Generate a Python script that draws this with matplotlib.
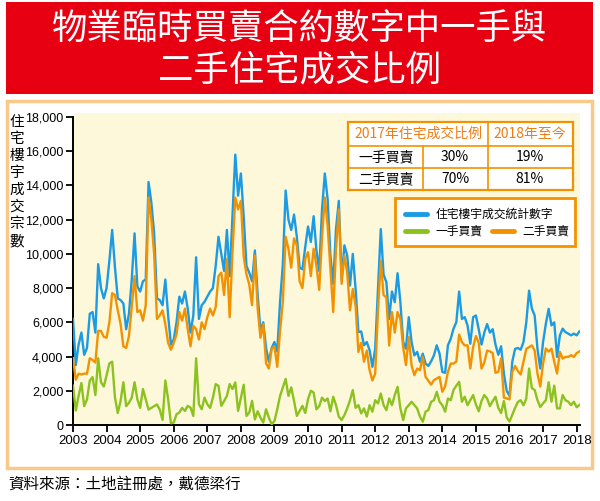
import matplotlib
matplotlib.use('Agg')
import matplotlib.pyplot as plt
from matplotlib.patches import Rectangle
from matplotlib.lines import Line2D
import numpy as np

plt.rcParams['font.family'] = ['Noto Sans CJK TC', 'DejaVu Sans']

# monthly figures, Jan 2003 - Feb 2018
total = [
    6200, 3500, 4700, 5400, 4100, 4500, 6500, 6600, 5400, 9400, 8000, 7400,
    8000, 9600, 11400, 9200, 7400, 7300, 7100, 5600, 6500, 8500, 11200, 8100,
    7800, 8400, 8500, 14200, 13000, 11200, 7400, 7300, 7000, 8500, 6400, 4700,
    5000, 6000, 7500, 7100, 7800, 6800, 5400, 6400, 9800, 6200, 7000, 7200,
    7500, 7800, 8000, 9300, 11000, 10000, 9000, 11400, 8700, 12200, 15800, 13400,
    14700, 12200, 9300, 8900, 8400, 10200, 7600, 5500, 6000, 4500, 3700, 4500,
    4850, 4300, 7200, 9400, 13700, 12000, 11400, 12300, 11000, 9200, 9100, 10400,
    11600, 10700, 12200, 10200, 9000, 12600, 14700, 13200, 9900, 8250, 11450, 13100,
    8540, 10500, 9900, 8150, 10000, 7950, 5430, 5470, 4660, 4850, 4370, 3400,
    4460, 8000, 11450, 8800, 8340, 6200, 7800, 7180, 8870, 7180, 4850, 4460,
    6300, 4850, 4070, 4270, 3690, 4170, 3590, 3450, 3720, 4070, 4660, 4170,
    3100, 3050, 4660, 5040, 5630, 6010, 7800, 6200, 6300, 5820, 4750, 6300,
    6400, 5600, 4700, 5400, 5900, 5400, 5600, 4700, 4100, 4600, 3000, 2000,
    1700, 3700, 4450, 4500, 4400, 4850, 6000, 7850, 6800, 6400, 4450, 3300,
    4850, 5920, 6790, 5820, 6000, 3980, 5240, 5630, 5430, 5340, 5240, 5340,
    5240, 5470,
]
primary = [
    2300, 850, 1700, 2450, 1100, 1500, 2600, 2800, 1750, 3900, 2500, 2250,
    2900, 3600, 3700, 1600, 700, 1400, 2500, 1100, 1300, 1600, 2500, 1500,
    1000, 2100, 1500, 900, 1000, 1100, 1200, 900, 300, 2600, 1500, 100,
    140, 630, 730, 1000, 820, 1120, 1020, 530, 3900, 1220, 920, 1600,
    1220, 1000, 1600, 2390, 2290, 1120, 1400, 1700, 2390, 2100, 2490, 820,
    1600, 2350, 530, 730, 1410, 330, 800, 430, 140, 920, 430, 40,
    235, 920, 1700, 2200, 2690, 1700, 2200, 1410, 530, 820, 1120, 700,
    1510, 2000, 1900, 920, 1100, 1600, 1400, 1550, 800, 1650, 1160, 490,
    290, 580, 970, 1450, 2040, 1000, 1160, 680, 970, 490, 1160, 780,
    1450, 1260, 1840, 1160, 870, 1550, 1160, 1750, 2230, 970, 290, 970,
    1160, 1360, 1160, 970, 490, 190, 780, 870, 1360, 1450, 1940, 1360,
    1160, 780, 1550, 1450, 2040, 2300, 2520, 1360, 1650, 1160, 1450, 1750,
    1200, 800, 1400, 1750, 1550, 1100, 1400, 1650, 1000, 700, 1400, 450,
    200, 600, 1000, 1350, 1450, 1150, 1550, 3300, 2150, 2050, 1450, 1050,
    1260, 1450, 2500, 1360, 2300, 970, 970, 1750, 1450, 1360, 1160, 1360,
    1040, 1170,
]
secondary = [
    3900, 2650, 3000, 2950, 3000, 3000, 3900, 3800, 3650, 5500, 5500, 5150,
    5100, 6000, 7700, 7600, 6700, 5900, 4600, 4500, 5200, 6900, 8700, 6600,
    6700, 6100, 7000, 13300, 12000, 10000, 6200, 6400, 6700, 5900, 4800, 4400,
    4800, 5300, 6600, 6100, 6800, 5600, 4600, 5800, 5600, 5000, 6000, 5600,
    6300, 6800, 6400, 6900, 8700, 8900, 7600, 9700, 6300, 10100, 13300, 12600,
    13100, 9850, 8800, 8200, 7000, 9900, 6800, 5100, 5900, 3600, 3300, 4450,
    4600, 3400, 5500, 7200, 11000, 10300, 9200, 10900, 10500, 8400, 8000, 9700,
    10100, 8700, 10300, 9300, 7900, 11000, 13300, 11650, 9100, 6600, 10300, 12600,
    8250, 9900, 8900, 6700, 7950, 6950, 4270, 4800, 3700, 4350, 3200, 2600,
    3000, 6700, 9600, 7600, 7450, 4650, 6600, 5400, 6600, 6200, 4550, 3500,
    5140, 3490, 2910, 3300, 3200, 3980, 2810, 2580, 2360, 2620, 2720, 2810,
    1940, 2270, 3110, 3590, 3590, 3710, 5280, 4840, 4650, 4660, 3300, 4550,
    5200, 4800, 3300, 3650, 4350, 4300, 4200, 3050, 3100, 3900, 1600, 1550,
    1500, 3100, 3450, 3150, 2950, 3700, 4450, 4550, 4650, 4350, 3000, 2250,
    3590, 4470, 4290, 4460, 3700, 3010, 4270, 3880, 3980, 3980, 4080, 3980,
    4200, 4300,
]
years = list(range(2003, 2019))
yticks = list(range(0, 18001, 2000))

table_header = ['2017年住宅成交比例', '2018年至今']
table_rows = [['一手買賣', '30%', '19%'], ['二手買賣', '70%', '81%']]

BLUE = '#1b9be4'
GREEN = '#8cc21f'
ORANGE = '#f39200'

W, H = 600, 501
fig = plt.figure(figsize=(6, 5.01), dpi=100)


def fx(px):
    return px / W


def fy(py):
    return 1 - py / H


def rect(x0, y0, x1, y1, **kw):
    fig.patches.append(Rectangle((fx(x0), fy(y1)), fx(x1 - x0), (y1 - y0) / H,
                                 transform=fig.transFigure, **kw))


def hline(x0, x1, y, **kw):
    fig.lines.append(Line2D([fx(x0), fx(x1)], [fy(y), fy(y)], transform=fig.transFigure, **kw))


def vline(x, y0, y1, **kw):
    fig.lines.append(Line2D([fx(x), fx(x)], [fy(y0), fy(y1)], transform=fig.transFigure, **kw))


# title banner
rect(6, 2, 593, 94, facecolor='#e60012', edgecolor='none', zorder=-2)
fig.text(0.5, fy(30), '物業臨時買賣合約數字中一手與', ha='center', va='center',
         color='white', fontsize=25.5)
fig.text(0.5, fy(70), '二手住宅成交比例', ha='center', va='center',
         color='white', fontsize=25.5)

# outer frame and plot background
rect(7, 101, 592, 468, facecolor='none', edgecolor='#f9c98a', lw=2.5, zorder=-2)
rect(73, 113, 580, 425, facecolor='#fdf8da', edgecolor='none', zorder=-1)

ax = fig.add_axes([fx(73), fy(425), fx(507), (425 - 117) / H])
ax.patch.set_alpha(0)

x = 2003 + np.arange(len(total)) / 12.0
ax.plot(x, total, color=BLUE, lw=1.7, zorder=3)
ax.plot(x, secondary, color=ORANGE, lw=1.7, zorder=4)
ax.plot(x, primary, color=GREEN, lw=1.7, zorder=5)

ax.set_xlim(2003, 2018.1)
ax.set_ylim(0, 18000)
ax.set_xticks(years)
ax.set_yticks(yticks)
latin = ['Liberation Sans', 'DejaVu Sans']
ax.set_xticklabels([str(y) for y in years], family=latin, fontsize=9.5)
ax.set_yticklabels([f'{v:,}' for v in yticks], family=latin, fontsize=9)
for s in ['top', 'right']:
    ax.spines[s].set_visible(False)
for s in ['left', 'bottom']:
    ax.spines[s].set_linewidth(1.4)
ax.tick_params(direction='out', length=5, width=1.3, pad=2)

# y axis title, stacked characters
for i, ch in enumerate('住宅樓宇成交宗數'):
    fig.text(fx(17), fy(122 + i * 17), ch, ha='center', va='center', fontsize=10.5)

# ratio table
tc = '#f39200'
rect(348, 122, 573, 190, facecolor='white', edgecolor=tc, lw=1.6, zorder=5)
hline(348, 573, 146, color=tc, lw=1.2, zorder=6)
hline(348, 573, 168, color=tc, lw=1.2, zorder=6)
vline(488, 122, 190, color=tc, lw=1.2, zorder=6)
vline(423, 146, 190, color=tc, lw=1.2, zorder=6)
fig.text(fx(418), fy(134), table_header[0], ha='center', va='center',
         color='#ef7d12', fontsize=10, zorder=7)
fig.text(fx(530), fy(134), table_header[1], ha='center', va='center',
         color='#ef7d12', fontsize=10, zorder=7)
for r, row in enumerate(table_rows):
    yy = 157 + r * 22
    for cx, txt in zip([386, 455, 530], row):
        fig.text(fx(cx), fy(yy), txt, ha='center', va='center', fontsize=10, zorder=7)

# legend
rect(395, 198, 575, 246, facecolor='white', edgecolor=tc, lw=2, zorder=5)
hline(405, 427, 214, color=BLUE, lw=3.5, solid_capstyle='round', zorder=6)
fig.text(fx(436), fy(214), '住宅樓宇成交統計數字', va='center', fontsize=8.5, zorder=7)
hline(405, 427, 231, color=GREEN, lw=3.5, solid_capstyle='round', zorder=6)
fig.text(fx(436), fy(231), '一手買賣', va='center', fontsize=8.5, zorder=7)
hline(492, 514, 231, color=ORANGE, lw=3.5, solid_capstyle='round', zorder=6)
fig.text(fx(522), fy(231), '二手買賣', va='center', fontsize=8.5, zorder=7)

fig.text(fx(8), fy(484), '資料來源：土地註冊處，戴德梁行', va='center', fontsize=11.2)

fig.savefig('out.png', dpi=100)
